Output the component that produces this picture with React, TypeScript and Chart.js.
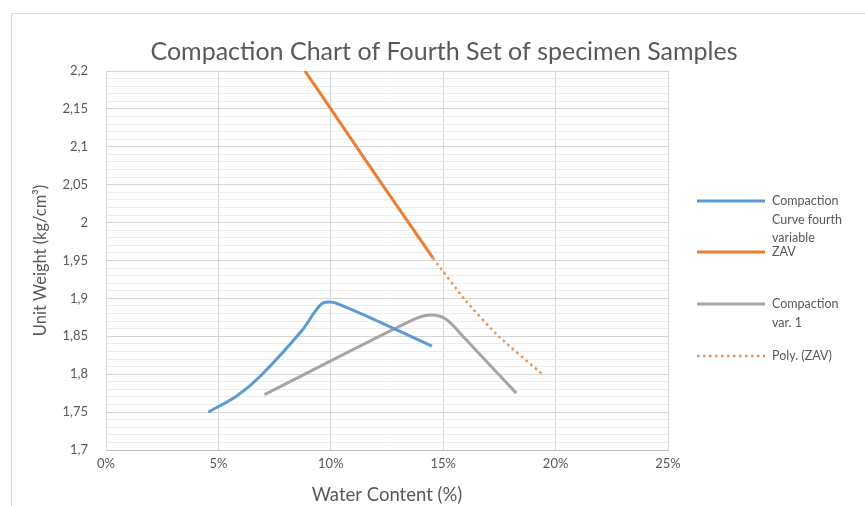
import React, { useEffect, useRef } from "react";
import { Chart, registerables } from "chart.js";

Chart.register(...registerables);

const CHART_TITLE = "Compaction Chart of Fourth Set of specimen Samples";
const X_TITLE = "Water Content (%)";
const Y_TITLE = "Unit Weight (kg/cm³)";

// Compaction Curve fourth variable (water % , unit weight)
const blueWater = [4.55, 5.8, 6.85, 8.7, 9.6, 10.2, 14.5];
const blueWeight = [1.75, 1.771, 1.797, 1.857, 1.893, 1.894, 1.837];

// ZAV
const zavWater = [8.85, 10.0, 12.2, 14.55];
const zavWeight = [2.2, 2.15, 2.054, 1.953];

// Compaction var. 1
const grayWater = [7.05, 13.6, 14.4, 15.1, 16.0, 18.25];
const grayWeight = [1.773, 1.871, 1.878, 1.873, 1.846, 1.775];

// Poly. (ZAV) trendline forecast
const polyWater = [14.55, 16.0, 17.5, 19.45];
const polyWeight = [1.953, 1.897, 1.849, 1.799];

const X_MIN = 0;
const X_MAX = 25;
const X_STEP = 5;
const Y_MIN = 1.7;
const Y_MAX = 2.2;
const Y_MINOR_STEP = 0.01;

const legendLabels = [
  ["Compaction", "Curve fourth", "variable"],
  ["ZAV"],
  ["Compaction", "var. 1"],
  ["Poly. (ZAV)"],
];

const FONT = "Lato, 'Open Sans', sans-serif";
const TEXT = "#595959";

const toPts = (xs: number[], ys: number[]) => xs.map((x, i) => ({ x, y: ys[i] }));

const fmtY = (v: number) => (Math.round(v * 100) / 100).toString().replace(".", ",");

const overlay = {
  id: "overlay",
  beforeDraw(chart: any) {
    const ctx = chart.ctx;
    ctx.save();
    ctx.fillStyle = "#ffffff";
    ctx.fillRect(0, 0, chart.width, chart.height);
    ctx.strokeStyle = "#D9D9D9";
    ctx.lineWidth = 1;
    ctx.strokeRect(11.5, 13.5, 900, 600);
    ctx.restore();
  },
  afterDraw(chart: any) {
    const ctx = chart.ctx;
    ctx.save();
    // title
    ctx.fillStyle = TEXT;
    ctx.font = `25px ${FONT}`;
    ctx.textAlign = "center";
    ctx.textBaseline = "middle";
    ctx.fillText(CHART_TITLE, 444, 52);

    // legend
    const ys = [201, 252, 304, 356];
    ctx.font = `12.5px ${FONT}`;
    ctx.textAlign = "left";
    legendLabels.forEach((lines, k) => {
      const ds = chart.data.datasets[k];
      const y = ys[k];
      ctx.save();
      ctx.strokeStyle = ds.borderColor;
      ctx.lineWidth = ds.borderWidth;
      ctx.setLineDash(ds.borderDash || []);
      ctx.beginPath();
      ctx.moveTo(697, y);
      ctx.lineTo(765, y);
      ctx.stroke();
      ctx.restore();
      ctx.fillStyle = TEXT;
      lines.forEach((t, j) => {
        ctx.fillText(t, 772, y + j * 18.5);
      });
    });
    ctx.restore();
  },
};

export default function App() {
  const ref = useRef<HTMLCanvasElement>(null);
  useEffect(() => {
    document.body.style.margin = "0";
    const chart = new Chart(ref.current as HTMLCanvasElement, {
      type: "scatter",
      data: {
        datasets: [
          {
            label: legendLabels[0].join(" "),
            data: toPts(blueWater, blueWeight),
            showLine: true,
            borderColor: "#5B9BD5",
            borderWidth: 3,
            pointRadius: 0,
            tension: 0.3,
            order: 2,
          },
          {
            label: legendLabels[1].join(" "),
            data: toPts(zavWater, zavWeight),
            showLine: true,
            borderColor: "#ED7D31",
            borderWidth: 3,
            pointRadius: 0,
            tension: 0.2,
            order: 0,
          },
          {
            label: legendLabels[2].join(" "),
            data: toPts(grayWater, grayWeight),
            showLine: true,
            borderColor: "#A5A5A5",
            borderWidth: 3,
            pointRadius: 0,
            tension: 0.3,
            order: 3,
          },
          {
            label: legendLabels[3].join(" "),
            data: toPts(polyWater, polyWeight),
            showLine: true,
            borderColor: "#E9925A",
            borderWidth: 2.5,
            borderDash: [2.5, 3.5],
            pointRadius: 0,
            tension: 0.2,
            order: 1,
          },
        ],
      } as any,
      options: {
        animation: false,
        responsive: false,
        devicePixelRatio: 1,
        layout: { padding: { left: 0, right: 197, top: 71, bottom: 0 } },
        plugins: {
          legend: { display: false },
          title: { display: false },
          tooltip: { enabled: false },
        },
        scales: {
          x: {
            type: "linear",
            min: X_MIN,
            max: X_MAX,
            ticks: {
              stepSize: X_STEP,
              callback: (v: any) => `${v}%`,
              color: TEXT,
              font: { family: FONT, size: 13 },
              padding: 6,
            },
            grid: { color: "#D9D9D9", drawTicks: false },
            border: { color: "#BFBFBF", width: 1 },
            title: {
              display: true,
              text: X_TITLE,
              color: TEXT,
              font: { family: FONT, size: 18.5 },
              padding: { top: 0, bottom: 0 },
            },
            afterFit: (s: any) => {
              s.height = 56;
            },
          },
          y: {
            type: "linear",
            min: Y_MIN,
            max: Y_MAX,
            ticks: {
              stepSize: Y_MINOR_STEP,
              autoSkip: false,
              maxTicksLimit: 200,
              callback: (v: any) => (Math.round(v * 100) % 5 === 0 ? fmtY(v) : ""),
              color: TEXT,
              font: { family: FONT, size: 13 },
              padding: 18,
            },
            grid: {
              drawTicks: false,
              color: (c: any) =>
                c.tick && Math.round(c.tick.value * 100) % 5 === 0 ? "#D6D6D6" : "#ECECEC",
            },
            border: { color: "#D9D9D9", width: 1 },
            title: {
              display: true,
              text: Y_TITLE,
              color: TEXT,
              font: { family: FONT, size: 16.5 },
              padding: { top: 31, bottom: 0 },
            },
            afterFit: (s: any) => {
              s.width = 106;
            },
          },
        },
      } as any,
      plugins: [overlay],
    });
    return () => chart.destroy();
  }, []);
  return (
    <div style={{ width: 865, height: 506 }}>
      <canvas ref={ref} width={865} height={506} style={{ display: "block" }} />
    </div>
  );
}
